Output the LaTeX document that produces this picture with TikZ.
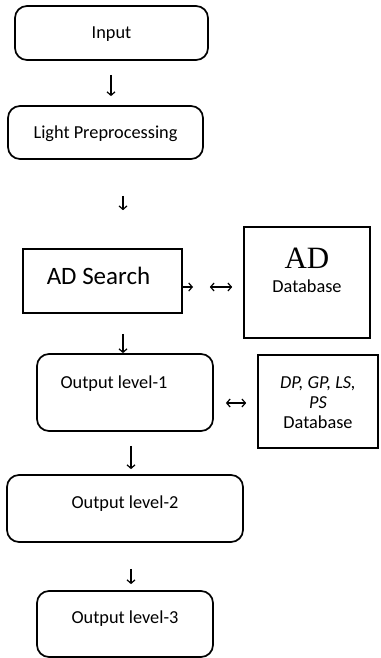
\documentclass[tikz,border=0pt]{standalone}
\usepackage{fontspec}
\setmainfont{Carlito}
\newfontfamily\serifad{Liberation Serif}
\usetikzlibrary{arrows.meta}
\tikzset{
  basefont/.style={font=\fontsize{18.3}{22}\selectfont},
  rbox/.style={draw, line width=1.7pt, rounded corners=12pt, inner sep=0pt, basefont},
  sbox/.style={draw, line width=1.6pt, inner sep=0pt, basefont},
  arr/.style={line width=1.2pt, -{Straight Barb[length=3.5pt,width=8pt]}},
  dbl/.style={line width=1.2pt, {Straight Barb[length=3.5pt,width=8pt]}-{Straight Barb[length=3.5pt,width=8pt]}},
}
\begin{document}
\begin{tikzpicture}[x=1pt,y=-1pt]
\useasboundingbox (0,0) rectangle (380,658);
% boxes
\node[rbox, minimum width=193pt, minimum height=54pt, text height=12pt, text depth=0pt] (in) at (111.5,33) {Input};
\node[rbox, minimum width=195pt, minimum height=53pt, text height=12pt, text depth=0pt] (lp) at (105.5,132.5) {Light Preprocessing};
\node[sbox, minimum width=159pt, minimum height=64pt, text height=6pt, text depth=0pt, font=\fontsize{25}{30}\selectfont] (ads) at (102.5,281) {\hspace*{-8pt}AD Search};
\node[sbox, minimum width=126pt, minimum height=111pt, text height=19pt, text depth=0pt] (adsdb) at (307,282.5)
  {\begin{tabular}[b]{@{}c@{}}{\serifad\fontsize{31}{31}\selectfont AD}\\[2pt]Database\end{tabular}};
\node[rbox, minimum width=176pt, minimum height=77pt, text height=0pt, text depth=8.4pt] (ol1) at (125,392.5) {\hspace*{-22pt}Output level-1};
\node[sbox, minimum width=120pt, minimum height=93pt, text height=53pt, text depth=0pt, font=\fontsize{18.3}{20}\selectfont] (dpdb) at (318,401.5)
  {\begin{tabular}[b]{@{}c@{}}\itshape DP, GP, LS,\\\itshape PS\\Database\end{tabular}};
\node[rbox, minimum width=236pt, minimum height=67pt, text height=0pt, text depth=0pt] (ol2) at (125,508.5) {Output level-2};
\node[rbox, minimum width=176pt, minimum height=66pt, text height=0pt, text depth=1.4pt] (ol3) at (125,624) {Output level-3};
% connectors
\draw[arr, shorten <=14pt, shorten >=9pt] ([xshift=-0.5pt]in.south) -- ([xshift=5.5pt]lp.north);
\draw[arr, shorten <=36pt, shorten >=38pt] ([xshift=17.5pt]lp.south) -- ([xshift=20.5pt]ads.north);
\draw[arr, shorten <=20pt] ([xshift=20.5pt]ads.south) -- ([xshift=-2pt]ol1.north);
\draw[arr, shorten <=14pt, shorten >=5pt] ([xshift=6pt]ol1.south) -- ([xshift=6pt]ol2.north);
\draw[arr, shorten <=26pt, shorten >=6pt] ([xshift=6pt]ol2.south) -- ([xshift=6pt]ol3.north);
\coordinate (adsx) at (193,287);
\draw[arr] ([yshift=-6pt]ads.east) -- (adsx);
\draw[dbl, shorten <=27pt, shorten >=11pt] ([yshift=-6pt]ads.east) -- ([yshift=-4.5pt]adsdb.west);
\draw[dbl, shorten <=12pt, shorten >=11pt] ([yshift=-10.5pt]ol1.east) -- ([yshift=-1.5pt]dpdb.west);
\end{tikzpicture}
\end{document}
